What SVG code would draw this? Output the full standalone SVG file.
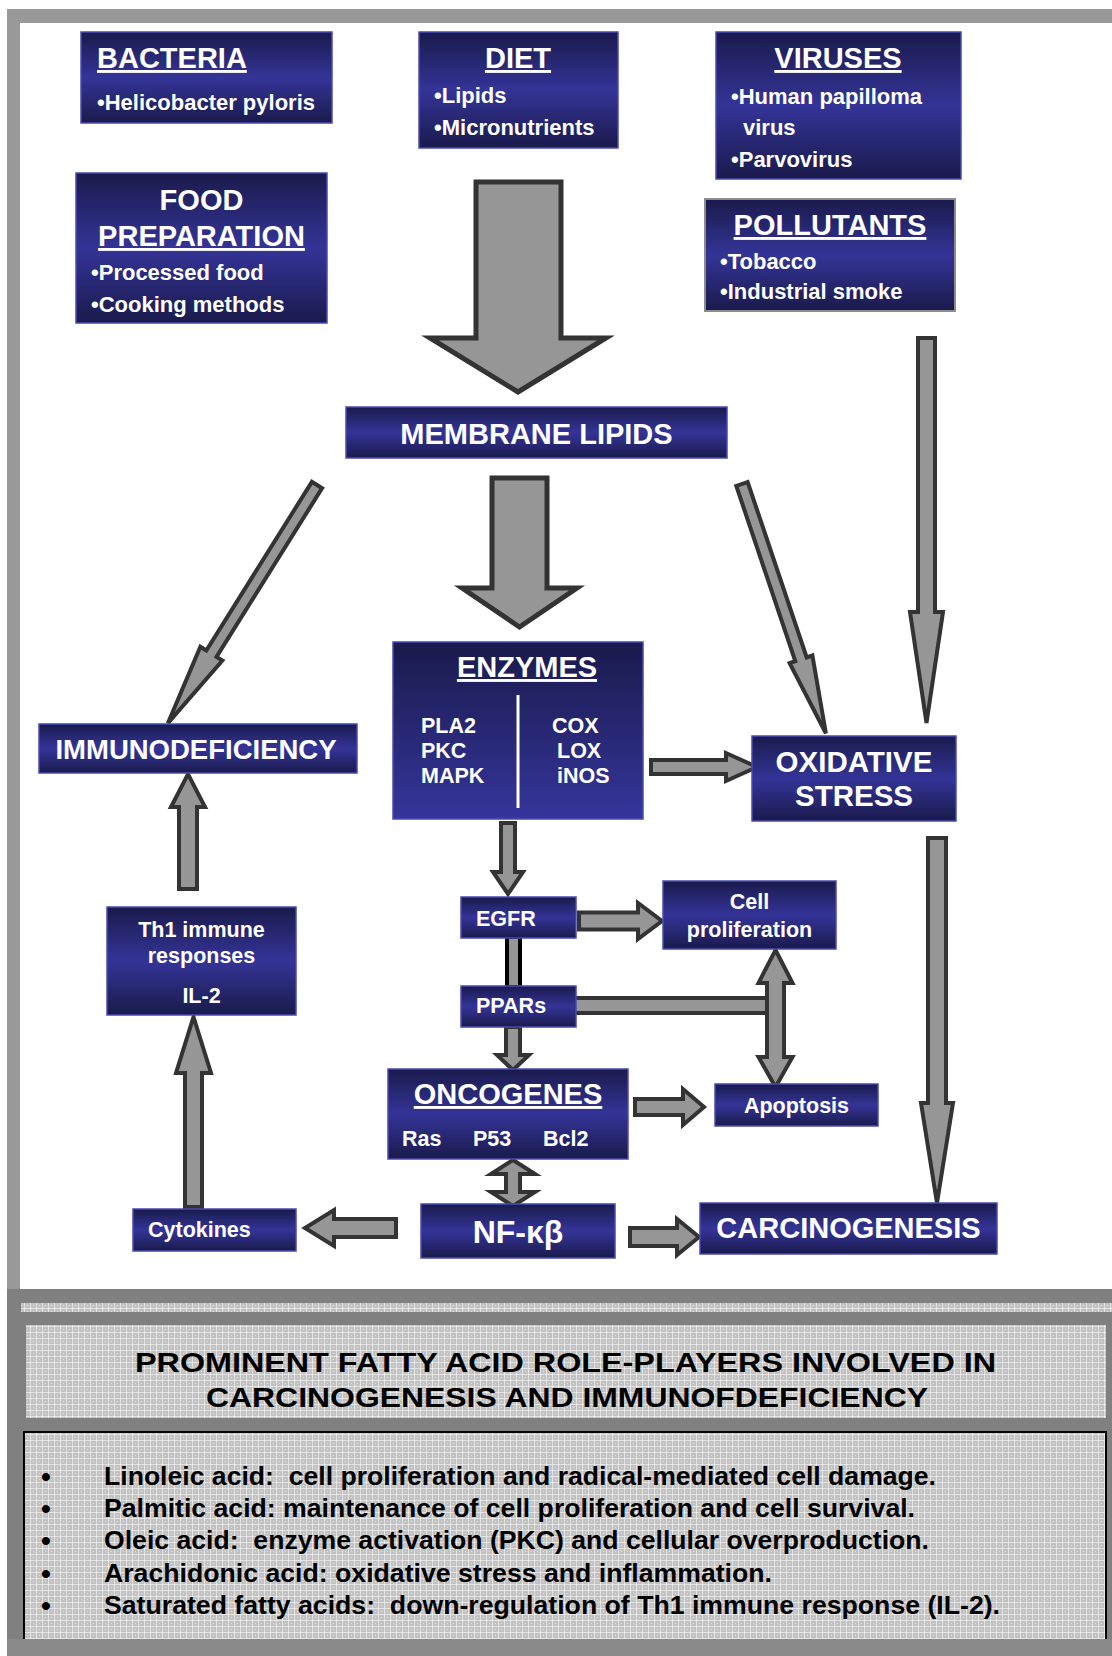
<svg xmlns="http://www.w3.org/2000/svg" width="1112" height="1656" viewBox="0 0 1112 1656">
<defs>
<linearGradient id="gBand" x1="0" y1="0" x2="0" y2="1">
<stop offset="0" stop-color="#1a1a4c"/>
<stop offset="0.5" stop-color="#343498"/>
<stop offset="1" stop-color="#1a1a4c"/>
</linearGradient>
<linearGradient id="gEnz" x1="0" y1="0" x2="0" y2="1">
<stop offset="0" stop-color="#1a1a4c"/>
<stop offset="1" stop-color="#35359c"/>
</linearGradient>
<pattern id="hatch" width="6" height="6" patternUnits="userSpaceOnUse">
<rect width="6" height="6" fill="#c2c2c2"/>
<rect x="0" y="0" width="6" height="1" fill="#ffffff" opacity="0.55"/>
<rect x="0" y="0" width="1" height="6" fill="#ffffff" opacity="0.55"/>
<rect x="3" y="3" width="1" height="1" fill="#ffffff" opacity="0.5"/>
</pattern>
</defs>
<style>
.box{fill:url(#gBand);stroke:#4a4ab4;stroke-width:1.5}
.enz{fill:url(#gEnz);stroke:#4a4ab4;stroke-width:1.5}
.t{font-family:"Liberation Sans",Arial,sans-serif;font-weight:bold;fill:#ffffff}
.h{font-size:29px}
.b{font-size:22px}
.s{font-size:21.5px}
.u{text-decoration:underline}
.arr{fill:#969696;stroke:#333333;stroke-width:4;stroke-linejoin:miter}
.big{stroke-width:5}
.k{font-family:"Liberation Sans",Arial,sans-serif;font-weight:bold;fill:#000000;white-space:pre}
</style>
<rect width="1112" height="1656" fill="#ffffff"/>
<g id="frame">
<rect x="7" y="9" width="1105" height="14" fill="#999999"/>
<rect x="7" y="9" width="13" height="1280" fill="#999999"/>
</g>

<g id="connectors">
<polygon class="arr big" points="476,182 561,182 561,338 606,338 518,392 430,338 476,338"/>
<polygon class="arr big" points="492,478 547,478 547,588 577,588 519.5,627 462,588 492,588"/>
<polygon class="arr" transform="translate(317,485) rotate(122.05)" points="0,-6 199,-6 199,-13 281,0 199,13 199,6 0,6"/>
<polygon class="arr" transform="translate(742,484) rotate(71.4)" points="0,-6 185,-6 185,-12 263,0 185,12 185,6 0,6"/>
<polygon class="arr" points="918,338 935,338 935,612 943,612 926.5,723 910,612 918,612"/>
<polygon class="arr" points="651,760 726,760 726,753 757,767 726,781 726,774 651,774"/>
<polygon class="arr" points="928,838 946,838 946,1103 953,1103 937,1203 921,1103 928,1103"/>
<polygon class="arr" points="501,823 515,823 515,872 523,872 508,894 493,872 501,872"/>
<polygon class="arr" points="579,912.5 638,912.5 638,903 662,921 638,939 638,929.5 579,929.5"/>
<rect x="507" y="937" width="13" height="50" fill="#969696" stroke="#000000" stroke-width="4"/>
<rect class="arr" x="573" y="998" width="196" height="15"/>
<polygon class="arr" points="775.5,950 792.5,983 784,983 784,1057 792.5,1057 775.5,1087 758.5,1057 767,1057 767,983 758.5,983"/>
<polygon class="arr" points="506,1027 520,1027 520,1055 529,1055 513,1070 497,1055 506,1055"/>
<polygon class="arr" points="635,1099 683,1099 683,1089 704,1107 683,1125 683,1115 635,1115"/>
<polygon class="arr" points="513,1160 535,1174 520,1174 520,1192 535,1192 513,1206 491,1192 506,1192 506,1174 491,1174"/>
<polygon class="arr" points="396,1219 334,1219 334,1210 305,1228 334,1246 334,1237 396,1237"/>
<polygon class="arr" points="185,1207 202,1207 202,1073 211,1073 193.5,1017 176,1073 185,1073"/>
<polygon class="arr" points="179,889 197,889 197,807 205,807 188,774 171,807 179,807"/>
<polygon class="arr" points="630,1228 677,1228 677,1219 699,1237 677,1255 677,1246 630,1246"/>
</g>

<g id="bacteria">
<rect class="box" x="81" y="32" width="251" height="91"/>
<text class="t h u" x="97" y="68">BACTERIA</text>
<text class="t b" x="97" y="110">•Helicobacter pyloris</text>
</g>
<g id="diet">
<rect class="box" x="419" y="32" width="199" height="116"/>
<text class="t h u" x="518" y="68" text-anchor="middle">DIET</text>
<text class="t b" x="434" y="103">•Lipids</text>
<text class="t b" x="434" y="135">•Micronutrients</text>
</g>
<g id="viruses">
<rect class="box" x="716" y="32" width="245" height="147"/>
<text class="t h u" x="838" y="68" text-anchor="middle">VIRUSES</text>
<text class="t b" x="731" y="104">•Human papilloma</text>
<text class="t b" x="743" y="135">virus</text>
<text class="t b" x="731" y="167">•Parvovirus</text>
</g>
<g id="food">
<rect class="box" x="76" y="173" width="251" height="150"/>
<text class="t h" x="201.5" y="210" text-anchor="middle">FOOD</text>
<text class="t h u" x="201.5" y="246" text-anchor="middle">PREPARATION</text>
<text class="t b" x="91" y="280">•Processed food</text>
<text class="t b" x="91" y="312">•Cooking methods</text>
</g>
<g id="pollutants">
<rect x="705" y="199" width="250" height="112" fill="url(#gBand)" stroke="#8c8c8c" stroke-width="2"/>
<text class="t h u" x="830" y="235" text-anchor="middle">POLLUTANTS</text>
<text class="t b" x="720" y="269">•Tobacco</text>
<text class="t b" x="720" y="299">•Industrial smoke</text>
</g>
<g id="membrane">
<rect class="box" x="346" y="407" width="381" height="51"/>
<text class="t h" x="536.5" y="444" text-anchor="middle">MEMBRANE LIPIDS</text>
</g>
<g id="enzymes">
<rect class="enz" x="393" y="642" width="250" height="177"/>
<text class="t h u" x="527" y="677" text-anchor="middle">ENZYMES</text>
<line x1="518" y1="695" x2="518" y2="808" stroke="#ffffff" stroke-width="3"/>
<text class="t s" x="421" y="733">PLA2</text>
<text class="t s" x="421" y="758">PKC</text>
<text class="t s" x="421" y="783">MAPK</text>
<text class="t s" x="552" y="733">COX</text>
<text class="t s" x="557" y="758">LOX</text>
<text class="t s" x="557" y="783">iNOS</text>
</g>
<g id="immunodeficiency">
<rect class="box" x="39" y="724" width="318" height="49"/>
<text class="t" x="196" y="759" text-anchor="middle" font-size="27.5">IMMUNODEFICIENCY</text>
</g>
<g id="oxidative">
<rect class="box" x="752" y="736" width="204" height="85"/>
<text class="t" x="854" y="772" text-anchor="middle" font-size="29.5">OXIDATIVE</text>
<text class="t" x="854" y="806" text-anchor="middle" font-size="29.5">STRESS</text>
</g>
<g id="egfr">
<rect class="box" x="461" y="897" width="115" height="41"/>
<text class="t s" x="476" y="926">EGFR</text>
</g>
<g id="cellprolif">
<rect class="box" x="663" y="881" width="173" height="68"/>
<text class="t s" x="749.5" y="909" text-anchor="middle">Cell</text>
<text class="t s" x="749.5" y="937" text-anchor="middle">proliferation</text>
</g>
<g id="ppars">
<rect class="box" x="461" y="986" width="115" height="41"/>
<text class="t s" x="476" y="1013">PPARs</text>
</g>
<g id="th1">
<rect class="box" x="107" y="907" width="189" height="108"/>
<text class="t s" x="201.5" y="937" text-anchor="middle">Th1 immune</text>
<text class="t s" x="201.5" y="963" text-anchor="middle">responses</text>
<text class="t s" x="201.5" y="1003" text-anchor="middle">IL-2</text>
</g>
<g id="oncogenes">
<rect class="box" x="388" y="1069" width="240" height="90"/>
<text class="t h u" x="508" y="1104" text-anchor="middle">ONCOGENES</text>
<text class="t s" x="402" y="1146">Ras</text>
<text class="t s" x="473" y="1146">P53</text>
<text class="t s" x="543" y="1146">Bcl2</text>
</g>
<g id="apoptosis">
<rect class="box" x="715" y="1084" width="163" height="42"/>
<text class="t s" x="796.5" y="1113" text-anchor="middle">Apoptosis</text>
</g>
<g id="nfkb">
<rect class="box" x="421" y="1204" width="194" height="54"/>
<text class="t" x="518" y="1243" text-anchor="middle" font-size="32">NF-κβ</text>
</g>
<g id="cytokines">
<rect class="box" x="133" y="1209" width="163" height="42"/>
<text class="t s" x="148" y="1237">Cytokines</text>
</g>
<g id="carcinogenesis">
<rect class="box" x="700" y="1203" width="297" height="51"/>
<text class="t h" x="848.5" y="1238" text-anchor="middle">CARCINOGENESIS</text>
</g>

<g id="panel">
<rect x="7" y="1289" width="1105" height="367" fill="#808080"/>
<rect x="21" y="1303" width="1091" height="9" fill="url(#hatch)"/>
<rect x="26" y="1325" width="1080" height="93" fill="url(#hatch)"/>
<rect x="23" y="1431" width="1084" height="208" fill="url(#hatch)"/>
<polyline points="24,1639 24,1432 1106,1432 1106,1639" fill="none" stroke="#000000" stroke-width="2"/>
<rect x="7" y="1639" width="1105" height="17" fill="#8a8a8a"/>
<text class="k" x="135" y="1372" font-size="28" textLength="861" lengthAdjust="spacingAndGlyphs">PROMINENT FATTY ACID ROLE-PLAYERS INVOLVED IN</text>
<text class="k" x="206" y="1407" font-size="28" textLength="722" lengthAdjust="spacingAndGlyphs">CARCINOGENESIS AND IMMUNOFDEFICIENCY</text>
<g font-size="25">
<text class="k" x="41" y="1486" font-size="28">•</text>
<text class="k" x="41" y="1518" font-size="28">•</text>
<text class="k" x="41" y="1550" font-size="28">•</text>
<text class="k" x="41" y="1583" font-size="28">•</text>
<text class="k" x="41" y="1615" font-size="28">•</text>
<text class="k" x="104" y="1485" xml:space="preserve" textLength="832" lengthAdjust="spacingAndGlyphs">Linoleic acid:  cell proliferation and radical-mediated cell damage.</text>
<text class="k" x="104" y="1517" xml:space="preserve" textLength="811" lengthAdjust="spacingAndGlyphs">Palmitic acid: maintenance of cell proliferation and cell survival.</text>
<text class="k" x="104" y="1549" xml:space="preserve" textLength="825" lengthAdjust="spacingAndGlyphs">Oleic acid:  enzyme activation (PKC) and cellular overproduction.</text>
<text class="k" x="104" y="1582" xml:space="preserve" textLength="668" lengthAdjust="spacingAndGlyphs">Arachidonic acid: oxidative stress and inflammation.</text>
<text class="k" x="104" y="1614" xml:space="preserve" textLength="896" lengthAdjust="spacingAndGlyphs">Saturated fatty acids:  down-regulation of Th1 immune response (IL-2).</text>
</g>
</g>
</svg>
